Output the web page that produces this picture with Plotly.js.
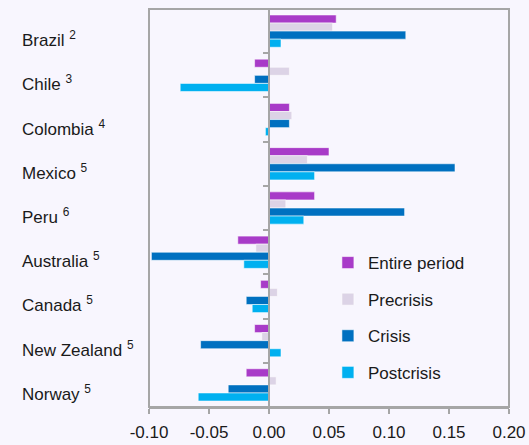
<!DOCTYPE html>
<html>
<head>
<meta charset="utf-8">
<script src="https://cdn.plot.ly/plotly-3.0.1.min.js"></script>
<style>
html,body{margin:0;padding:0;background:#F8F6FE;}
#chart{width:529px;height:445px;}
</style>
</head>
<body>
<div id="chart"></div>
<script>
const categories = ['Brazil','Chile','Colombia','Mexico','Peru','Australia','Canada','New Zealand','Norway'];
const footnotes = ['2','3','4','5','6','5','5','5','5'];
const seriesNames = ['Entire period','Precrisis','Crisis','Postcrisis'];
const entirePeriod = [0.056,-0.012,0.017,0.050,0.038,-0.026,-0.007,-0.012,-0.019];
const precrisis    = [0.053, 0.017,0.019,0.032,0.014,-0.011, 0.007,-0.006, 0.006];
const crisis       = [0.114,-0.012,0.017,0.155,0.113,-0.098,-0.019,-0.057,-0.034];
const postcrisis   = [0.010,-0.074,-0.003,0.038,0.029,-0.021,-0.014, 0.010,-0.059];
const xTicks = [-0.10,-0.05,0.00,0.05,0.10,0.15,0.20];
const topTicks = [-0.05,0.05,0.10,0.15];

const colors = ['#A83BC8','#DCD3E6','#0070C0','#00B0F0'];
const values = [entirePeriod, precrisis, crisis, postcrisis];
const gridGrey = '#A6A6A6';
const bg = '#F8F6FE';
const xRange = [-0.10, 0.20];

const traces = values.map((v,i)=>({
  type:'bar', orientation:'h', name:seriesNames[i], x:v, y:categories,
  legendgroup:'g'+i,
  marker:{color:colors[i], line:{color:'rgba(255,255,255,0.55)', width:1}},
  hoverinfo:'x+name'
}));

const annotations = categories.map((c,i)=>({
  xref:'paper', yref:'y', x:(20-149)/360, y:c, xanchor:'left', yanchor:'middle',
  yshift:-8, showarrow:false,
  text: c + ' <sup>' + footnotes[i] + '</sup>',
  font:{family:'Liberation Sans, Arial, sans-serif', size:17, color:'#1a1a1a'}
}));

const layout = {
  width:529, height:445,
  margin:{l:149, r:20, t:9, b:38},
  paper_bgcolor:bg, plot_bgcolor:bg,
  barmode:'group', bargap:0.27, bargroupgap:0,
  showlegend:true,
  font:{family:'Liberation Sans, Arial, sans-serif', size:17, color:'#1a1a1a'},
  legend:{x:0.497, y:0.407, xanchor:'left', yanchor:'top', bgcolor:'rgba(0,0,0,0)',
          traceorder:'grouped', tracegroupgap:11.5, font:{size:17, color:'#1a1a1a'}},
  xaxis:{range:xRange, tickvals:xTicks, ticktext:xTicks.map(t=>t.toFixed(2)),
         showline:true, linecolor:gridGrey, linewidth:2, ticks:'outside', ticklen:5,
         tickwidth:2, tickcolor:gridGrey, showgrid:false, zeroline:false,
         ticklabelstandoff:4, fixedrange:true},
  xaxis2:{range:xRange, overlaying:'x', side:'top', anchor:'y', tickvals:topTicks,
          showticklabels:false, showline:true, linecolor:gridGrey, linewidth:2,
          ticks:'inside', ticklen:6, tickwidth:2, tickcolor:gridGrey, showgrid:false, zeroline:false},
  yaxis:{type:'category', categoryarray:categories, autorange:'reversed',
         anchor:'free', position:(0-xRange[0])/(xRange[1]-xRange[0]),
         showline:true, linecolor:gridGrey, linewidth:2, ticks:'outside', ticklen:5,
         tickwidth:2, tickcolor:gridGrey, tickson:'boundaries', showticklabels:false,
         showgrid:false, zeroline:false},
  shapes:[{type:'rect', xref:'paper', yref:'paper', x0:0, x1:1, y0:0, y1:1,
           line:{color:gridGrey, width:2}, layer:'above'}],
  annotations:annotations
};

Plotly.newPlot('chart', traces, layout, {displayModeBar:false, staticPlot:true});
</script>
</body>
</html>
